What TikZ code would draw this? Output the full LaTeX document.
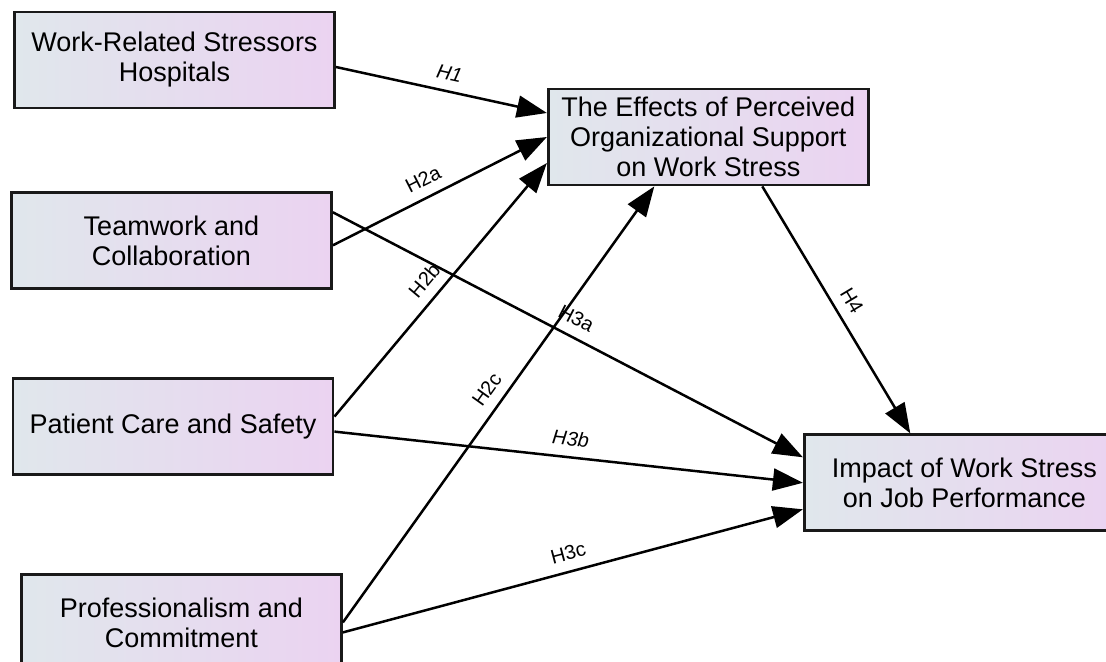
\documentclass[tikz,border=0pt]{standalone}
\usepackage{fontspec}
\setmainfont{Liberation Sans}
\usetikzlibrary{positioning, arrows.meta, calc}

\definecolor{boxleft}{RGB}{224,231,236}
\definecolor{boxright}{RGB}{235,211,241}

\begin{document}
\begin{tikzpicture}[
    construct/.style={draw=black!90, line width=1.4pt, left color=boxleft, right color=boxright,
      minimum width=160pt, minimum height=48pt, align=center, inner xsep=2pt, inner ysep=1pt,
      font=\fontsize{13.5}{15}\selectfont},
    hyp/.style={-{Triangle[length=15pt,width=11pt]}, line width=1.25pt},
    hlabel/.style={sloped, above=3pt, inner sep=2pt, font=\fontsize{10}{12}\selectfont},
    hlabelit/.style={hlabel, font=\fontsize{10}{12}\selectfont\itshape}
  ]
  \useasboundingbox (0,0) rectangle (553pt,-331pt);
  \clip (0,0) rectangle (553pt,-331pt);

  \node [construct] (stressors) at (87.25pt,-30pt) {Work-Related Stressors\\Hospitals};
  \node [construct, below=41pt of stressors, xshift=-1.5pt] (teamwork) {Teamwork and\\Collaboration};
  \node [construct, below=43.5pt of teamwork, xshift=0.75pt] (care) {Patient Care and Safety};
  \node [construct, below=48.5pt of care, xshift=4.25pt] (prof) {Professionalism and\\Commitment};
  \node [construct, right=105.5pt of stressors, yshift=-38.5pt] (support) {The Effects of Perceived\\Organizational Support\\on Work Stress};
  \node [construct, below=123.5pt of support, xshift=128pt] (impact) {Impact of Work Stress\\on Job Performance};

  % hypotheses
  \draw [hyp] ([yshift=-3.5pt]stressors.east) -- node [hlabelit, pos=0.52] {H1} ([yshift=12pt]support.west);
  \draw [hyp] ([yshift=-2.25pt]teamwork.east) -- node [hlabel, pos=0.46] {H2a} (support.west);
  \draw [hyp] ([yshift=5pt]care.east) -- node [hlabel, pos=0.49] {H2b} ([yshift=-13pt]support.west);
  \draw [hyp] (prof.east) -- node [hlabel, pos=0.51] {H2c} ([xshift=-27pt]support.south);
  \draw [hyp] ([yshift=14.25pt]teamwork.east) -- node [hlabel, pos=0.5] {H3a} ([yshift=12.75pt]impact.west);
  \draw [hyp] ([yshift=-2.5pt]care.east) -- node [hlabelit, pos=0.5] {H3b} (impact.west);
  \draw [hyp] ([yshift=-5pt]prof.east) -- node [hlabel, pos=0.5] {H3c} ([yshift=-13.25pt]impact.west);
  \draw [hyp] ([xshift=27pt]support.south) -- node [hlabel, pos=0.5] {H4} ([xshift=-27pt]impact.north);
\end{tikzpicture}
\end{document}
